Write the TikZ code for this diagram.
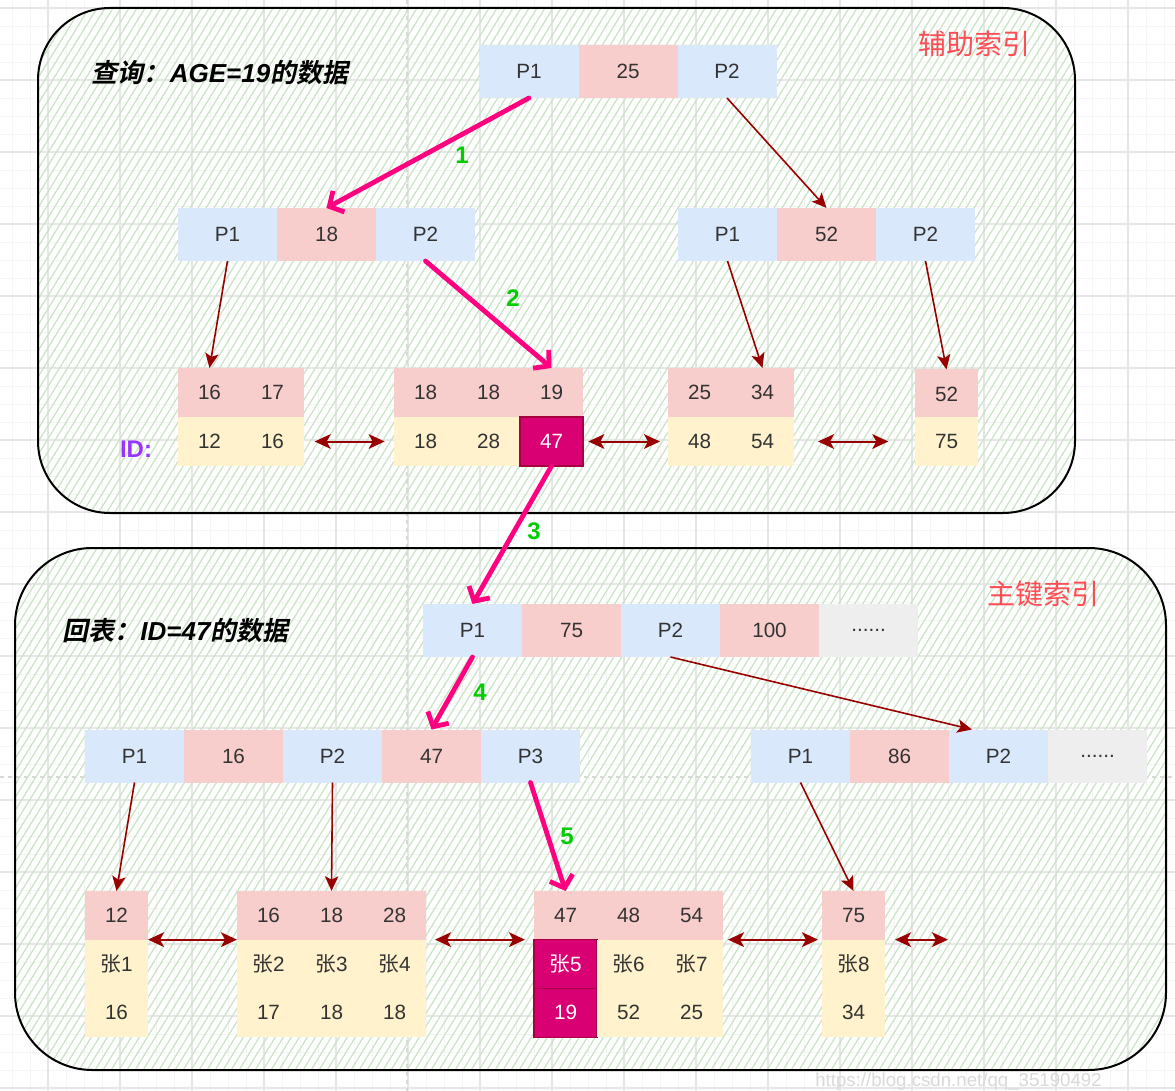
\documentclass[tikz,border=0pt]{standalone}
\usepackage{fontspec}
\setmainfont{Liberation Sans}
\newfontfamily\cjk{Noto Sans CJK SC}
\newfontfamily\cjkbi{Noto Sans CJK SC Bold}[FakeSlant=0.2]
\usetikzlibrary{arrows.meta,calc}
\definecolor{cblue}{HTML}{DAE8FC}
\definecolor{cpink}{HTML}{F8CECC}
\definecolor{cyel}{HTML}{FFF2CC}
\definecolor{cgray}{HTML}{EEEEEE}
\definecolor{cmag}{HTML}{D80073}
\definecolor{cmagd}{HTML}{A50040}
\definecolor{darr}{HTML}{990000}
\definecolor{parr}{HTML}{FF0080}
\definecolor{hatchc}{HTML}{C8E4C3}
\definecolor{gnum}{HTML}{00CC00}
\definecolor{idc}{HTML}{9933FF}
\definecolor{lred}{HTML}{FF4D55}
\definecolor{txt}{HTML}{333333}
\definecolor{gridmaj}{HTML}{E6E6E6}
\definecolor{gridmin}{HTML}{F5F5F5}
\newcommand\cellfont{\fontsize{15.5}{18}\selectfont}
\tikzset{
  cell/.style={inner sep=0pt, outer sep=0pt, minimum height=39.75pt, font=\cellfont, text=txt},
  pcell/.style={cell, minimum width=74.25pt},
  lcell/.style={cell, minimum width=47.25pt, minimum height=36.75pt},
  mcell/.style={cell, minimum width=47.25pt, minimum height=36.5pt},
  magcell/.style={fill=cmag, draw=cmagd, line width=0.8pt, text=white},
  rarrow/.style={draw=darr, line width=1.2pt, -{Stealth[length=11pt,width=10pt,inset=2.5pt]}},
  darrow/.style={draw=darr, line width=1.5pt, {Stealth[length=12pt,width=11pt,inset=3pt]}-{Stealth[length=12pt,width=11pt,inset=3pt]}},
  parrow/.style={draw=parr, line width=3.6pt, line cap=round, -{Straight Barb[length=8pt,width=18pt]}},
  numlab/.style={text=gnum, font=\bfseries\fontsize{18}{20}\selectfont, inner sep=0pt},
  boxline/.style={draw=black, line width=1.5pt, rounded corners=54pt},
  hatchline/.style={draw=hatchc, line width=0.9pt},
}
\begin{document}
\begin{tikzpicture}[x=0.75pt,y=-0.75pt]
\useasboundingbox (0,0) rectangle (1175,1091);
\fill[white] (0,0) rectangle (1175,1091);
% grid
\foreach \x in {12,30,...,1175} \draw[gridmin, line width=0.6pt] (\x,0) -- (\x,1091);
\foreach \y in {8,26,...,1091} \draw[gridmin, line width=0.6pt] (0,\y) -- (1175,\y);
\foreach \x in {48,120,...,1175} \draw[gridmaj, line width=0.9pt] (\x,0) -- (\x,1091);
\foreach \y in {8,80,...,1091} \draw[gridmaj, line width=0.9pt] (0,\y) -- (1175,\y);
\draw[gray!30, dashed, line width=0.8pt] (0,777) -- (1175,777);
\draw[gray!30, dashed, line width=0.8pt] (407,0) -- (407,1091);
% container 1 hatch
\begin{scope}
\clip[rounded corners=54pt] (38,8) rectangle (1075,513);
\foreach \i in {-330,-322,...,1080} \draw[hatchline] (\i,520) -- ++(320,-520);
\end{scope}
\draw[boxline] (38,8) rectangle (1075,513);
% container 2 hatch
\begin{scope}
\clip[rounded corners=58pt] (15,548) rectangle (1166,1070);
\foreach \i in {-340,-332,...,1170} \draw[hatchline] (\i,1075) -- ++(330,-535);
\end{scope}
\draw[boxline, rounded corners=58pt] (15,548) rectangle (1166,1070);

% titles
\node[inner sep=0pt, font=\fontsize{19.5}{22}\selectfont] (q1) at (220,73)
  {{\cjkbi 查询：}{\bfseries\itshape AGE=19}{\cjkbi 的数据}};
\node[inner sep=0pt, font=\fontsize{19.5}{22}\selectfont] (q2) at (175.5,631)
  {{\cjkbi 回表：}{\bfseries\itshape ID=47}{\cjkbi 的数据}};
\node[inner sep=0pt, text=lred, font=\cjk\fontsize{21}{24}\selectfont] (t1) at (974,44) {辅助索引};
\node[inner sep=0pt, text=lred, font=\cjk\fontsize{21}{24}\selectfont] (t2) at (1043,594) {主键索引};
\node[inner sep=0pt, text=idc, font=\bfseries\fontsize{18}{20}\selectfont] (idl) at (136,449) {ID:};

% top container nodes
\node[pcell,fill=cblue] (tp1) at (529,71.5) {P1};
\node[pcell,fill=cpink] (tk) at (628,71.5) {25};
\node[pcell,fill=cblue] (tp2) at (727,71.5) {P2};

\node[pcell,fill=cblue] (lp1) at (227.5,234.5) {P1};
\node[pcell,fill=cpink] (lk) at (326.5,234.5) {18};
\node[pcell,fill=cblue] (lp2) at (425.5,234.5) {P2};

\node[pcell,fill=cblue] (rp1) at (727.5,234.5) {P1};
\node[pcell,fill=cpink] (rk) at (826.5,234.5) {52};
\node[pcell,fill=cblue] (rp2) at (925.5,234.5) {P2};

\node[lcell,fill=cpink] (a1) at (209.5,392.5) {16};
\node[lcell,fill=cpink] (a2) at (272.5,392.5) {17};
\node[lcell,fill=cyel] (a3) at (209.5,441.5) {12};
\node[lcell,fill=cyel] (a4) at (272.5,441.5) {16};

\node[lcell,fill=cpink] (b1) at (425.5,392.5) {18};
\node[lcell,fill=cpink] (b2) at (488.5,392.5) {18};
\node[lcell,fill=cpink] (b3) at (551.5,392.5) {19};
\node[lcell,fill=cyel] (b4) at (425.5,441.5) {18};
\node[lcell,fill=cyel] (b5) at (488.5,441.5) {28};
\node[lcell,magcell] (b6) at (551.5,441.5) {47};

\node[lcell,fill=cpink] (c1) at (699.5,392.5) {25};
\node[lcell,fill=cpink] (c2) at (762.5,392.5) {34};
\node[lcell,fill=cyel] (c3) at (699.5,441.5) {48};
\node[lcell,fill=cyel] (c4) at (762.5,441.5) {54};

\node[lcell,fill=cpink] (d1) at (946.5,394) {52};
\node[lcell,fill=cyel] (d2) at (946.5,441.5) {75};

% top arrows
\draw[parrow] (tp1.south) -- (lk.north);
\draw[rarrow] (tp2.south) -- (rk.north);
\draw[parrow] (lp2.south) -- (b3.north);
\draw[rarrow] (lp1.south) -- (a1.north);
\draw[rarrow] (rp1.south) -- (c2.north);
\draw[rarrow] (rp2.south) -- (d1.north);
\draw[darrow, shorten <=8pt, shorten >=7pt] (a4.east) -- (b4.west);
\draw[darrow, shorten <=4pt, shorten >=6pt] (b6.east) -- (c3.west);
\draw[darrow, shorten <=18pt, shorten >=20pt] (c4.east) -- (d2.west);

\node[numlab] (n1) at (462,155) {1};
\node[numlab] (n2) at (513,298) {2};

% bottom container nodes
\node[pcell,fill=cblue] (bp1) at (472.5,630.5) {P1};
\node[pcell,fill=cpink] (bk1) at (571.5,630.5) {75};
\node[pcell,fill=cblue] (bp2) at (670.5,630.5) {P2};
\node[pcell,fill=cpink] (bk2) at (769.5,630.5) {100};
\node[pcell,fill=cgray] (bdots) at (868.5,630.5) {......};

\node[pcell,fill=cblue] (cp1) at (134.5,756) {P1};
\node[pcell,fill=cpink] (ck1) at (233.5,756) {16};
\node[pcell,fill=cblue] (cp2) at (332.5,756) {P2};
\node[pcell,fill=cpink] (ck2) at (431.5,756) {47};
\node[pcell,fill=cblue] (cp3) at (530.5,756) {P3};

\node[pcell,fill=cblue] (ep1) at (800.5,756) {P1};
\node[pcell,fill=cpink] (ek1) at (899.5,756) {86};
\node[pcell,fill=cblue] (ep2) at (998.5,756) {P2};
\node[pcell,fill=cgray] (edots) at (1097.5,756) {......};

\node[mcell,fill=cpink] (la1) at (116.5,915.3) {12};
\node[mcell,fill=cyel] (la2) at (116.5,964) {{\cjk 张}1};
\node[mcell,fill=cyel] (la3) at (116.5,1012.7) {16};

\node[mcell,fill=cpink] (lb1) at (268.5,915.3) {16};
\node[mcell,fill=cpink] (lb2) at (331.5,915.3) {18};
\node[mcell,fill=cpink] (lb3) at (394.5,915.3) {28};
\node[mcell,fill=cyel] (lb4) at (268.5,964) {{\cjk 张}2};
\node[mcell,fill=cyel] (lb5) at (331.5,964) {{\cjk 张}3};
\node[mcell,fill=cyel] (lb6) at (394.5,964) {{\cjk 张}4};
\node[mcell,fill=cyel] (lb7) at (268.5,1012.7) {17};
\node[mcell,fill=cyel] (lb8) at (331.5,1012.7) {18};
\node[mcell,fill=cyel] (lb9) at (394.5,1012.7) {18};

\node[mcell,fill=cpink] (lc1) at (565.5,915.3) {47};
\node[mcell,fill=cpink] (lc2) at (628.5,915.3) {48};
\node[mcell,fill=cpink] (lc3) at (691.5,915.3) {54};
\node[mcell,magcell] (lc4) at (565.5,964) {{\cjk 张}5};
\node[mcell,fill=cyel] (lc5) at (628.5,964) {{\cjk 张}6};
\node[mcell,fill=cyel] (lc6) at (691.5,964) {{\cjk 张}7};
\node[mcell,magcell] (lc7) at (565.5,1012.7) {19};
\node[mcell,fill=cyel] (lc8) at (628.5,1012.7) {52};
\node[mcell,fill=cyel] (lc9) at (691.5,1012.7) {25};

\node[mcell,fill=cpink] (ld1) at (853.5,915.3) {75};
\node[mcell,fill=cyel] (ld2) at (853.5,964) {{\cjk 张}8};
\node[mcell,fill=cyel] (ld3) at (853.5,1012.7) {34};

% bottom arrows
\draw[parrow] (b6.south) -- (bp1.north);
\draw[parrow] (bp1.south) -- (ck2.north);
\draw[rarrow] (bp2.south) -- ($(ep2.north west)+(23,0)$);
\draw[rarrow] (cp1.south) -- (la1.north);
\draw[rarrow] (cp2.south) -- (lb2.north);
\draw[parrow] (cp3.south) -- (lc1.north);
\draw[rarrow] (ep1.south) -- (ld1.north);
\draw[darrow] (la1.south east) -- (lb1.south west);
\draw[darrow, shorten <=6.75pt, shorten >=6.75pt] (lb3.south east) -- (lc1.south west);
\draw[darrow, shorten <=3.75pt, shorten >=3pt] (lc3.south east) -- (ld1.south west);
\coordinate (dend) at ($(ld1.south east)+(63,0)$);
\draw[darrow, shorten <=7.5pt] (ld1.south east) -- (dend);

\node[numlab] (n3) at (534,531) {3};
\node[numlab] (n4) at (480,692) {4};
\node[numlab] (n5) at (567,836) {5};

% watermark
\node[anchor=base west, inner sep=0pt, text=black!15, font=\fontsize{14}{16}\selectfont] (wm) at (815,1086) {https://blog.csdn.net/qq\_35190492};
\end{tikzpicture}
\end{document}
